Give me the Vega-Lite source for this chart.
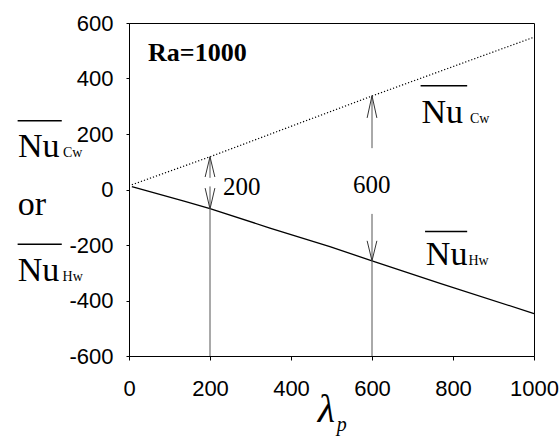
{
  "$schema": "https://vega.github.io/schema/vega-lite/v6.json",
  "width": 405,
  "height": 333,
  "autosize": {"type": "none"},
  "padding": {"left": 129, "top": 23, "right": 25, "bottom": 80},
  "background": "white",
  "config": {
    "view": {"stroke": "black", "strokeWidth": 1},
    "axis": {
      "grid": false,
      "domainColor": "black",
      "tickColor": "black",
      "labelColor": "black",
      "labelFont": "Liberation Sans",
      "labelFontSize": 22,
      "labelFlush": false,
      "labelOverlap": false,
      "title": null
    },
    "text": {"color": "black", "align": "left", "baseline": "alphabetic"}
  },
  "datasets": {
    "cw": [
      {"lam": 7, "nu": 17},
      {"lam": 200, "nu": 118},
      {"lam": 600, "nu": 337},
      {"lam": 1000, "nu": 549}
    ],
    "hw": [
      {"lam": 7, "nu": 10},
      {"lam": 138, "nu": -43},
      {"lam": 200, "nu": -69},
      {"lam": 348, "nu": -139},
      {"lam": 496, "nu": -206},
      {"lam": 600, "nu": -257},
      {"lam": 768, "nu": -338},
      {"lam": 1000, "nu": -447}
    ],
    "shafts": [
      {"x": 200, "y": 118, "y2": 42},
      {"x": 200, "y": 11, "y2": -600},
      {"x": 600, "y": 338, "y2": 149},
      {"x": 600, "y": -88, "y2": -600}
    ],
    "heads": [
      {"x": 200, "y": 118, "x2": 188, "y2": 45},
      {"x": 200, "y": 118, "x2": 212, "y2": 45},
      {"x": 200, "y": -70, "x2": 188, "y2": 5},
      {"x": 200, "y": -70, "x2": 212, "y2": 5},
      {"x": 600, "y": 338, "x2": 588, "y2": 258},
      {"x": 600, "y": 338, "x2": 612, "y2": 258},
      {"x": 600, "y": -257, "x2": 588, "y2": -185},
      {"x": 600, "y": -257, "x2": 612, "y2": -185}
    ],
    "overlines": [
      {"x": 720, "x2": 835, "y": 374},
      {"x": 731, "x2": 835, "y": -151},
      {"x": -275, "x2": -166, "y": 248},
      {"x": -275, "x2": -166, "y": -197}
    ],
    "big": [
      {"x": 722, "y": 240, "t": "Nu"},
      {"x": 733, "y": -272, "t": "Nu"},
      {"x": -274, "y": 117, "t": "Nu"},
      {"x": -275, "y": -91, "t": "or"},
      {"x": -275, "y": -328, "t": "Nu"}
    ],
    "subs": [
      {"x": 842, "y": 240, "t": "Cw"},
      {"x": 838, "y": -272, "t": "Hw"},
      {"x": -163, "y": 118, "t": "Cw"},
      {"x": -164, "y": -329, "t": "Hw"}
    ],
    "nums": [
      {"x": 232, "y": -19, "t": "200"},
      {"x": 553, "y": -13, "t": "600"}
    ],
    "ra": [{"x": 47, "y": 462, "t": "Ra=1000"}],
    "lambda": [{"x": 466, "y": -839, "t": "λ"}],
    "psub": [{"x": 513, "y": -870, "t": "p"}]
  },
  "layer": [
    {
      "data": {"name": "hw"},
      "mark": {"type": "line", "color": "black", "strokeWidth": 1.3},
      "encoding": {
        "x": {"field": "lam", "type": "quantitative", "scale": {"domain": [0, 1000], "nice": false, "zero": false},
          "axis": {"values": [0, 200, 400, 600, 800, 1000], "tickSize": 4, "labelPadding": 18, "labelExpr": "'' + datum.value"}},
        "y": {"field": "nu", "type": "quantitative", "scale": {"domain": [-600, 600], "nice": false, "zero": false},
          "axis": {"values": [-600, -400, -200, 0, 200, 400, 600], "tickSize": 3, "labelPadding": 13, "labelExpr": "'' + datum.value"}}
      }
    },
    {
      "data": {"name": "cw"},
      "mark": {"type": "line", "color": "black", "strokeWidth": 1.2, "strokeDash": [1.2, 2]},
      "encoding": {
        "x": {"field": "lam", "type": "quantitative"},
        "y": {"field": "nu", "type": "quantitative"}
      }
    },
    {
      "data": {"name": "shafts"},
      "mark": {"type": "rule", "color": "#555555", "strokeWidth": 1},
      "encoding": {
        "x": {"field": "x", "type": "quantitative"},
        "y": {"field": "y", "type": "quantitative"},
        "y2": {"field": "y2"}
      }
    },
    {
      "data": {"name": "heads"},
      "mark": {"type": "rule", "color": "#333333", "strokeWidth": 1},
      "encoding": {
        "x": {"field": "x", "type": "quantitative"},
        "x2": {"field": "x2"},
        "y": {"field": "y", "type": "quantitative"},
        "y2": {"field": "y2"}
      }
    },
    {
      "data": {"name": "overlines"},
      "mark": {"type": "rule", "color": "black", "strokeWidth": 1.5},
      "encoding": {
        "x": {"field": "x", "type": "quantitative"},
        "x2": {"field": "x2"},
        "y": {"field": "y", "type": "quantitative"}
      }
    },
    {
      "data": {"name": "big"},
      "mark": {"type": "text", "font": "Liberation Serif", "fontSize": 34},
      "encoding": {
        "x": {"field": "x", "type": "quantitative"},
        "y": {"field": "y", "type": "quantitative"},
        "text": {"field": "t"}
      }
    },
    {
      "data": {"name": "subs"},
      "mark": {"type": "text", "font": "Liberation Serif", "fontSize": 14},
      "encoding": {
        "x": {"field": "x", "type": "quantitative"},
        "y": {"field": "y", "type": "quantitative"},
        "text": {"field": "t"}
      }
    },
    {
      "data": {"name": "nums"},
      "mark": {"type": "text", "font": "Liberation Serif", "fontSize": 25},
      "encoding": {
        "x": {"field": "x", "type": "quantitative"},
        "y": {"field": "y", "type": "quantitative"},
        "text": {"field": "t"}
      }
    },
    {
      "data": {"name": "ra"},
      "mark": {"type": "text", "font": "Liberation Serif", "fontSize": 26, "fontWeight": "bold"},
      "encoding": {
        "x": {"field": "x", "type": "quantitative"},
        "y": {"field": "y", "type": "quantitative"},
        "text": {"field": "t"}
      }
    },
    {
      "data": {"name": "lambda"},
      "mark": {"type": "text", "font": "Liberation Serif", "fontSize": 40, "fontStyle": "italic"},
      "encoding": {
        "x": {"field": "x", "type": "quantitative"},
        "y": {"field": "y", "type": "quantitative"},
        "text": {"field": "t"}
      }
    },
    {
      "data": {"name": "psub"},
      "mark": {"type": "text", "font": "Liberation Serif", "fontSize": 20, "fontStyle": "italic"},
      "encoding": {
        "x": {"field": "x", "type": "quantitative"},
        "y": {"field": "y", "type": "quantitative"},
        "text": {"field": "t"}
      }
    }
  ]
}
